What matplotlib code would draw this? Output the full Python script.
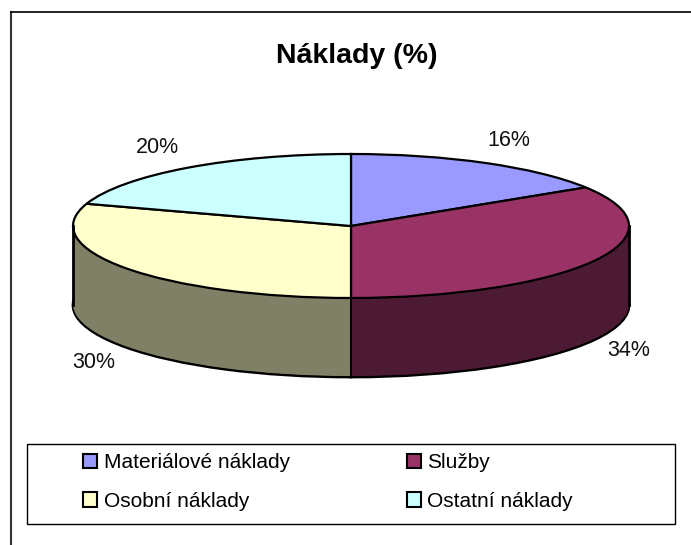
import matplotlib
matplotlib.use("Agg")
from matplotlib import pyplot as plt
from matplotlib.patches import Rectangle

plt.rcParams["font.family"] = ["Liberation Sans", "DejaVu Sans"]

categories = ["Materiálové náklady", "Služby", "Osobní náklady", "Ostatní náklady"]
values = [16, 34, 30, 20]
top_colors = ["#9999FF", "#993366", "#FFFFCC", "#CCFFFF"]
side_colors = ["#4D4D80", "#4D1A33", "#808066", "#668080"]

W, H = 691, 545
CX, CY = 351, 226
RX, RY = 278, 72
DEPTH = 79


def fx(x):
    return x / W


def fy(y):
    return 1 - y / H


fig = plt.figure(figsize=(W / 100, H / 100), dpi=100)
ax = fig.add_axes([0, 0, 1, 1])

# wall of the cylinder: the same pie repeated downwards
for step in range(DEPTH, 0, -1):
    edge = "black" if step == DEPTH else "none"
    ax.pie(values, colors=side_colors, startangle=90, counterclock=False,
           center=(0, -step / RY), radius=1,
           wedgeprops={"edgecolor": edge, "linewidth": 2})

ax.plot([-1, -1], [0, -DEPTH / RY], color="black", lw=2)
ax.plot([1, 1], [0, -DEPTH / RY], color="black", lw=2)
ax.plot([0, 0], [-1, -1 - DEPTH / RY], color="black", lw=1.4)

wedges, _ = ax.pie(values, colors=top_colors, startangle=90, counterclock=False,
                   center=(0, 0), radius=1,
                   wedgeprops={"edgecolor": "black", "linewidth": 1.6})

ax.set_aspect("auto")
ax.set_xlim((0 - CX) / RX, (W - CX) / RX)
ax.set_ylim((CY - H) / RY, CY / RY)
ax.axis("off")

# chart area border, only top and left are in the picture
fig.add_artist(plt.Line2D([fx(11), fx(11)], [fy(12), 0], color="#333333", lw=1.5))
fig.add_artist(plt.Line2D([fx(11), 1], [fy(12), fy(12)], color="black", lw=1.2))

fig.text(fx(357), fy(56), "Náklady (%)", ha="center", va="center",
         fontsize=20.5, fontweight="bold")

label_pos = [(509, 141), (629, 351), (94, 363), (157, 147)]
for val, (lx, ly) in zip(values, label_pos):
    fig.text(fx(lx), fy(ly), f"{val}%", ha="center", va="center",
             fontsize=15.5, color="#111111")

fig.add_artist(Rectangle((fx(27), fy(524)), fx(648), 80 / H, fill=False,
                         edgecolor="black", lw=1, transform=fig.transFigure))

# legend reads row by row, matplotlib fills columns
order = [0, 2, 1, 3]
leg = fig.legend([wedges[i] for i in order], [categories[i] for i in order], ncol=2,
                 loc="upper left", bbox_to_anchor=(fx(83), fy(453)), borderaxespad=0,
                 frameon=False, fontsize=15, borderpad=0,
                 handlelength=0.67, handleheight=0.67, handletextpad=0.33,
                 columnspacing=5.6, labelspacing=0.95)
for handle in leg.legend_handles:
    handle.set_linewidth(1.5)

fig.savefig("out.png", dpi=100)
